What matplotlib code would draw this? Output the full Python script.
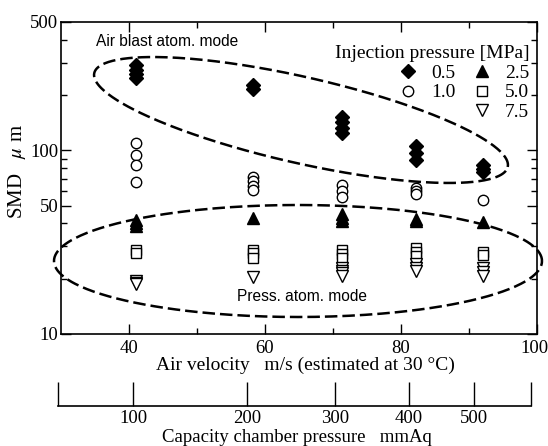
import numpy as np
import matplotlib.pyplot as plt
from matplotlib.lines import Line2D
from matplotlib.transforms import ScaledTranslation
from matplotlib.ticker import FixedLocator, LogLocator, NullFormatter, FuncFormatter

plt.rcParams['font.family'] = ['Liberation Serif', 'DejaVu Serif']
plt.rcParams['mathtext.fontset'] = 'stix'
plt.rcParams['font.size'] = 14

# air velocity at each capacity chamber pressure setting (m/s)
velocity = [41.0, 58.3, 71.3, 82.2, 92.1]

# capacity chamber pressure scale (mmAq), air velocity ~ k * sqrt(p)
chamber_pressure = [100, 200, 300, 400, 500]
k_vel = 4.07

# SMD (um) readings at each velocity, one list per injection pressure
smd_05 = [[290, 275, 260, 247], [228, 215], [151, 142, 133, 125], [106, 97, 89], [83, 79, 76]]
smd_10 = [[110, 94, 83, 67], [72, 68, 64, 61], [65, 60, 56], [62, 60, 57.5], [53.5]]
smd_25 = [[42, 40, 38.5], [43], [45, 43, 41], [42.5, 41], [40.8]]
smd_50 = [[28.7, 27.6], [28.7, 27.5, 26], [28.7, 27.3, 26], [29.5, 28, 26.5], [28, 27]]
smd_75 = [[19.5, 19, 18.7], [20.4], [23, 22, 21.5, 20.7], [24, 23, 22], [23, 21.8, 20.7]]

inj_labels = ['0.5', '1.0', '2.5', '5.0', '7.5']

W, H = 548, 446
fig = plt.figure(figsize=(W / 100, H / 100), dpi=100)
ax = fig.add_axes([61 / W, (H - 334) / H, 476 / W, 312 / H])

styles = [
    dict(marker='D', ms=7.6, mfc='k', mec='k'),
    dict(marker='o', ms=7.5, mfc='white', mec='k'),
    dict(marker='^', ms=9, mfc='k', mec='k'),
    dict(marker='s', ms=7.5, mfc='white', mec='k'),
    dict(marker='v', ms=8.5, mfc='white', mec='k'),
]

handles = []
for series, st, lab in zip([smd_05, smd_10, smd_25, smd_50, smd_75], styles, inj_labels):
    for v, vals in zip(velocity, series):
        ax.plot([v] * len(vals), vals, linestyle='none', mew=1, **st)
    handles.append(Line2D([], [], linestyle='none', mew=1, label=lab, **st))

ax.set_yscale('log')
ax.set_xlim(30, 100)
ax.set_ylim(10, 500)

ax.xaxis.set_major_locator(FixedLocator([40, 60, 80, 100]))
ax.xaxis.set_minor_locator(FixedLocator([50, 70, 90]))
ax.yaxis.set_major_locator(FixedLocator([10, 50, 100, 500]))
ax.yaxis.set_major_formatter(FuncFormatter(lambda v, _: f'{v:g}'))
ax.yaxis.set_minor_locator(LogLocator(base=10, subs=np.arange(2, 10)))
ax.yaxis.set_minor_formatter(NullFormatter())
ax.tick_params(which='both', direction='in', top=True, right=True, width=1)
ax.tick_params(which='major', length=7, labelsize=13.5)
ax.tick_params(which='minor', length=4.5)
ax.tick_params(axis='x', pad=4)
ax.tick_params(axis='y', pad=2)
for s in ax.spines.values():
    s.set_linewidth(1.2)

# keep the last velocity label inside the figure edge
last = ax.get_xticklabels()[-1]
last.set_transform(last.get_transform() + ScaledTranslation(-3 / 100, 0, fig.dpi_scale_trans))

ax.set_xlabel('Air velocity   m/s (estimated at 30 \u00b0C)', va='center')
ax.xaxis.set_label_coords(0.513, -0.099)
ax.set_ylabel('SMD   $\\mu$ m', va='center', fontsize=15)
ax.yaxis.set_label_coords(-0.092, 0.522)


def dashed_ellipse(cx, cy, a, b, angle):
    # centre and semi-axes in pixels from the lower left corner of the axes box
    pos = ax.get_position()
    bw, bh = pos.width * W, pos.height * H
    t = np.linspace(0, 2 * np.pi, 361)
    th = np.radians(angle)
    dx = a * np.cos(t) * np.cos(th) - b * np.sin(t) * np.sin(th)
    dy = a * np.cos(t) * np.sin(th) + b * np.sin(t) * np.cos(th)
    ax.plot((cx + dx) / bw, (cy + dy) / bh, transform=ax.transAxes, color='k',
            lw=1.8, dashes=(5, 2), clip_on=False)


dashed_ellipse(240, 214, 212, 43, -12.8)
dashed_ellipse(237, 73, 244, 56, 0)

ax.text(0.223, 0.936, 'Air blast atom. mode', family='Liberation Sans', fontsize=11.2,
        ha='center', va='center', transform=ax.transAxes)
ax.text(0.506, 0.119, 'Press. atom. mode', family='Liberation Sans', fontsize=11.2,
        ha='center', va='center', transform=ax.transAxes)

blank = Line2D([], [], linestyle='none', marker='none')
leg = ax.legend([handles[0], handles[1], blank, handles[2], handles[3], handles[4]],
                ['0.5', '1.0', '', '2.5', '5.0', '7.5'],
                ncol=2, loc='upper right', bbox_to_anchor=(1.0, 0.95),
                title='Injection pressure [MPa]', title_fontsize=14, fontsize=14,
                frameon=False, alignment='right', handlelength=1.0,
                handletextpad=0.67, columnspacing=0.88, labelspacing=0.1,
                borderpad=0.2, borderaxespad=0.2, numpoints=1)

# capacity chamber pressure scale below the velocity axis
ax2 = fig.add_axes([57.5 / W, (H - 406) / H, 473.5 / W, 0.05])
ax2.set_xlim(29.5, 99.5)
ax2.set_ylim(0, 1)
for s in ['top', 'left', 'right']:
    ax2.spines[s].set_visible(False)
ax2.spines['bottom'].set_linewidth(1.2)
ax2.patch.set_visible(False)
ax2.set_yticks([])
ticks = [29.5] + [k_vel * np.sqrt(p) for p in chamber_pressure] + [99.5]
tick_labels = [''] + [str(p) for p in chamber_pressure] + ['']
ax2.set_xticks(ticks, tick_labels)
ax2.tick_params(axis='x', direction='in', length=17, width=1, pad=3, labelsize=13.5)
ax2.set_xlabel('Capacity chamber pressure   mmAq', va='center', fontsize=13.5)
ax2.xaxis.set_label_coords(0.506, -1.42)

fig.savefig('out.png', dpi=100)
